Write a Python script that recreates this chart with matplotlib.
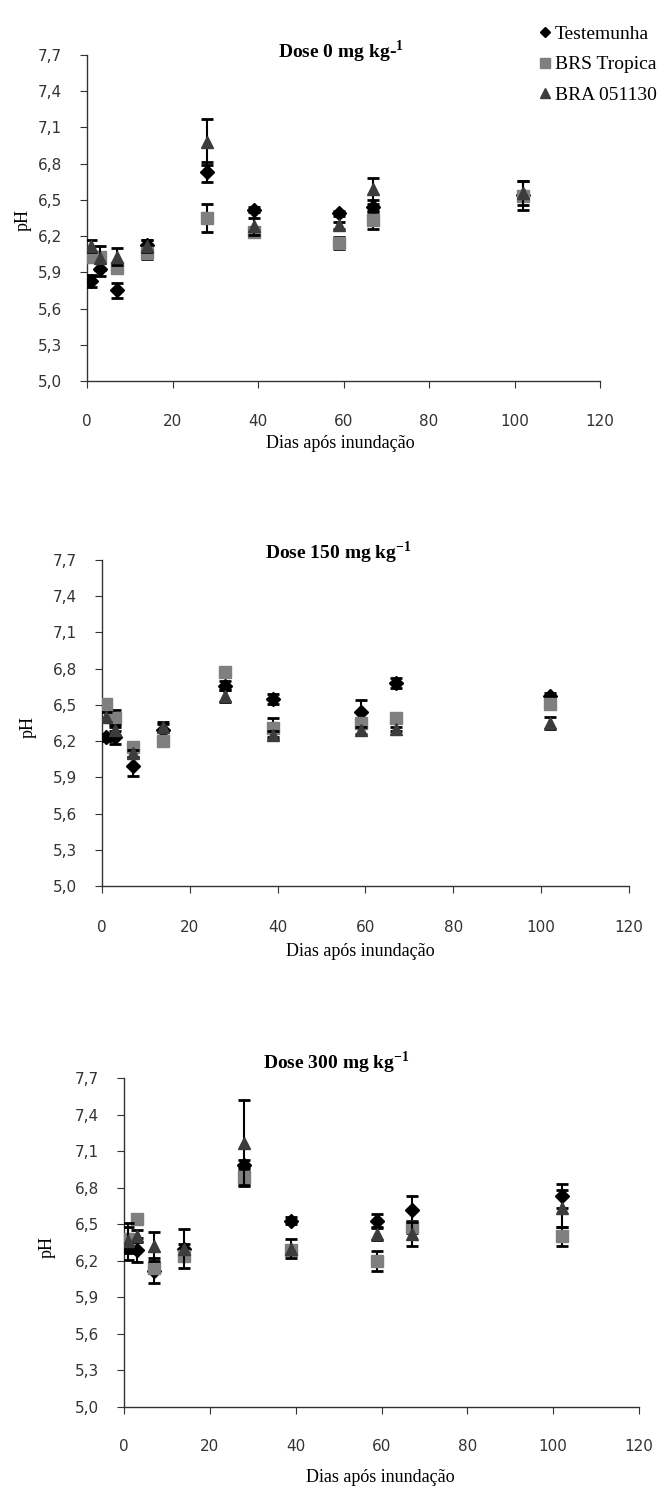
import matplotlib
matplotlib.use("Agg")
import matplotlib.pyplot as plt
from matplotlib.lines import Line2D
from matplotlib.ticker import FuncFormatter
import numpy as np

days = [1, 3, 7, 14, 28, 39, 59, 67, 102]
series_names = ["Testemunha", "BRS Tropica", "BRA 051130"]
titles = [r"Dose 0 mg kg-$^{\mathbf{1}}$", r"Dose 150 mg kg$^{\mathbf{-1}}$", r"Dose 300 mg kg$^{\mathbf{-1}}$"]

# dose 0
test0 = [5.83, 5.93, 5.75, 6.13, 6.73, 6.42, 6.39, 6.44, 6.54]
test0_err = [0.05, 0.06, 0.06, 0.04, 0.08, 0.02, 0.02, 0.03, 0.12]
trop0 = [6.03, 6.03, 5.94, 6.06, 6.35, 6.23, 6.14, 6.33, 6.53]
trop0_err = [0.03, 0.03, 0.03, 0.05, 0.12, 0.02, 0.05, 0.07, 0.04]
bra0 = [6.12, 6.02, 6.03, 6.12, 6.98, 6.28, 6.29, 6.59, 6.56]
bra0_err = [0.05, 0.10, 0.07, 0.05, 0.19, 0.07, 0.03, 0.09, 0.10]

# dose 150
test1 = [6.23, 6.23, 5.99, 6.29, 6.66, 6.55, 6.44, 6.68, 6.57]
test1_err = [0.03, 0.05, 0.08, 0.05, 0.04, 0.04, 0.10, 0.04, 0.03]
trop1 = [6.51, 6.39, 6.15, 6.20, 6.77, 6.31, 6.35, 6.39, 6.51]
trop1_err = [0.03, 0.07, 0.03, 0.02, 0.03, 0.08, 0.03, 0.02, 0.04]
bra1 = [6.40, 6.29, 6.10, 6.32, 6.57, 6.25, 6.29, 6.30, 6.35]
bra1_err = [0.04, 0.04, 0.03, 0.04, 0.05, 0.03, 0.03, 0.02, 0.05]

# dose 300
test2 = [6.32, 6.29, 6.12, 6.30, 6.99, 6.53, 6.53, 6.62, 6.73]
test2_err = [0.06, 0.10, 0.10, 0.04, 0.04, 0.03, 0.05, 0.11, 0.10]
trop2 = [6.38, 6.54, 6.14, 6.24, 6.89, 6.29, 6.20, 6.48, 6.40]
trop2_err = [0.10, 0.03, 0.04, 0.03, 0.08, 0.03, 0.08, 0.05, 0.08]
bra2 = [6.36, 6.40, 6.32, 6.30, 7.17, 6.30, 6.42, 6.42, 6.63]
bra2_err = [0.15, 0.05, 0.12, 0.16, 0.35, 0.08, 0.05, 0.10, 0.15]

panels = [
    [(test0, test0_err), (trop0, trop0_err), (bra0, bra0_err)],
    [(test1, test1_err), (trop1, trop1_err), (bra1, bra1_err)],
    [(test2, test2_err), (trop2, trop2_err), (bra2, bra2_err)],
]

colors = ["#000000", "#7f7f7f", "#3c3c3c"]
markers = ["D", "s", "^"]
msizes = [7, 9, 9]

plt.rcParams["mathtext.fontset"] = "custom"
plt.rcParams["mathtext.rm"] = "Liberation Serif"
plt.rcParams["mathtext.bf"] = "Liberation Serif:bold"

W, H = 658, 1495
fig = plt.figure(figsize=(W / 100, H / 100), dpi=100)

# axes boxes in pixels: left, right, top, bottom
boxes = [(87, 600, 55, 381), (102, 629, 560, 886), (124, 639, 1078, 1407)]
title_pos = [(341, 52), (338, 553), (336, 1063)]
xlabel_pos = [(340, 443), (360, 951), (380, 1478)]
ylabel_pos = [(23, 220), (28, 727), (47, 1247)]
tick_pad = [19, 19.5, 18]

comma = FuncFormatter(lambda v, p: f"{v:.1f}".replace(".", ","))

for i, (l, r, t, b) in enumerate(boxes):
    ax = fig.add_axes([l / W, 1 - b / H, (r - l) / W, (b - t) / H])
    for j, (vals, err) in enumerate(panels[i]):
        ax.errorbar(days, vals, yerr=err, fmt=markers[j], color=colors[j], ms=msizes[j],
                    mec=colors[j], ecolor="black", elinewidth=1.5, capsize=4.5, capthick=2,
                    zorder=3 + j)
    ax.set_xlim(0, 120)
    ax.set_ylim(5.0, 7.7)
    ax.set_xticks(np.arange(0, 121, 20))
    ax.set_yticks(np.arange(5.0, 7.71, 0.3))
    ax.yaxis.set_major_formatter(comma)
    for s in ("top", "right"):
        ax.spines[s].set_visible(False)
    for s in ("left", "bottom"):
        ax.spines[s].set_color("#333333")
        ax.spines[s].set_linewidth(1.0)
    ax.tick_params(axis="both", direction="out", length=5, color="#333333", labelsize=11,
                   labelcolor="#333333")
    ax.tick_params(axis="x", pad=tick_pad[i])
    ax.tick_params(axis="y", pad=13)
    for lab in ax.get_xticklabels() + ax.get_yticklabels():
        lab.set_fontfamily("DejaVu Sans")

    tx, ty = title_pos[i]
    fig.text(tx / W, 1 - ty / H, titles[i], ha="center", va="center",
             fontfamily="Liberation Serif", fontweight="bold", fontsize=14)
    xx, xy = xlabel_pos[i]
    fig.text(xx / W, 1 - xy / H, "Dias após inundação", ha="center", va="center",
             fontfamily="Liberation Serif", fontsize=13)
    yx, yy = ylabel_pos[i]
    fig.text(yx / W, 1 - yy / H, "pH", ha="center", va="center", rotation=90,
             fontfamily="Liberation Serif", fontsize=13)

handles = [Line2D([], [], ls="none", marker=markers[j], color=colors[j], ms=msizes[j] - 2)
           for j in range(3)]
fig.legend(handles, series_names, loc="upper left", bbox_to_anchor=(522 / W, 1 - 8 / H),
           frameon=False, handlelength=0.6, handletextpad=0.2, labelspacing=0.65,
           prop={"family": "Liberation Serif", "size": 14})

fig.savefig("out.png", dpi=100)
